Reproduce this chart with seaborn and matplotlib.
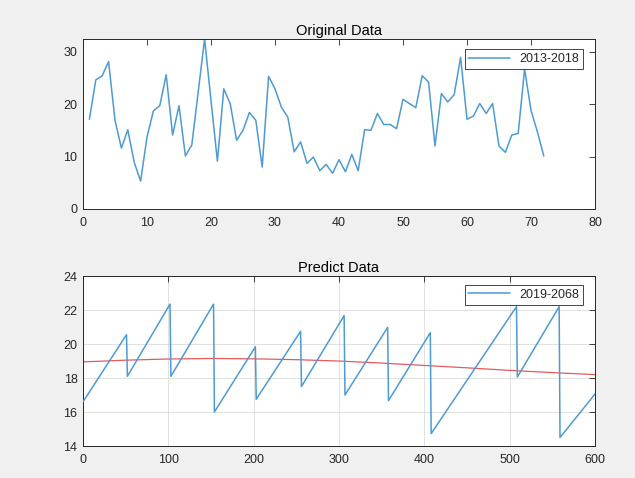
import matplotlib
matplotlib.use("Agg")
import matplotlib.pyplot as plt
import seaborn as sns

# Original data, monthly values 2013-2018
month = list(range(1, 73))
orig_vals = [17.1, 24.6, 25.4, 28.1, 16.9, 11.6, 15.1, 8.9, 5.3, 13.7,
             18.7, 19.7, 25.6, 14.1, 19.7, 10.1, 12.2, 22.3, 32.4, 20.7,
             9.1, 22.9, 20.1, 13.1, 15.0, 18.4, 16.9, 8.0, 25.3, 22.9,
             19.4, 17.5, 10.9, 12.8, 8.7, 9.9, 7.3, 8.5, 6.8, 9.4,
             7.1, 10.4, 7.3, 15.1, 15.0, 18.2, 16.1, 16.1, 15.3, 20.9,
             20.1, 19.3, 25.4, 24.2, 12.0, 22.0, 20.4, 21.8, 28.9, 17.1,
             17.7, 20.1, 18.2, 20.1, 12.0, 10.8, 14.1, 14.4, 26.7, 18.8,
             14.7, 10.1]

# Predicted series (vertices of the sawtooth), 2019-2068
pred_x = [0, 51, 52, 102, 103, 153, 154, 202, 203, 255, 256, 306, 307,
          357, 358, 407, 408, 508, 509, 558, 559, 600]
pred_y = [16.6, 20.55, 18.1, 22.35, 18.1, 22.35, 16.0, 19.84, 16.75, 20.75,
          17.5, 21.67, 17.0, 20.98, 16.67, 20.67, 14.73, 22.2, 18.06, 22.2,
          14.5, 17.06]

# Trend curve (red)
trend_x = [0, 50, 100, 150, 200, 250, 300, 350, 400, 450, 500, 550, 600]
trend_y = [18.95, 19.05, 19.12, 19.15, 19.13, 19.08, 19.0, 18.88, 18.74,
           18.6, 18.45, 18.32, 18.2]

sns.set_style("white")
plt.rcParams['font.family'] = ['Liberation Sans', 'DejaVu Sans']

blue = '#4d9bd3'
dark = '#262626'

fig = plt.figure(figsize=(6.35, 4.78), dpi=100, facecolor='#f0f0f0')
ax1 = fig.add_axes([0.1307, 0.5628, 0.8063, 0.3556])
ax2 = fig.add_axes([0.1307, 0.0669, 0.8063, 0.3556])


def style_axes(ax):
    ax.set_facecolor('white')
    for s in ax.spines.values():
        s.set_color(dark)
        s.set_linewidth(0.7)
    ax.tick_params(direction='in', top=True, right=True, length=4, width=0.6,
                   labelsize=9, colors=dark)
    ax.tick_params(axis='x', pad=6)
    ax.tick_params(axis='y', pad=4)
    ax.set_xlabel('')
    ax.set_ylabel('')


# top: original data
sns.lineplot(x=month, y=orig_vals, ax=ax1, color=blue, linewidth=1.1,
             estimator=None, sort=False, label='2013-2018')
ax1.set_xlim(0, 80)
ax1.set_ylim(0, max(orig_vals))
ax1.set_xticks(range(0, 81, 10))
ax1.set_yticks([0, 10, 20, 30])
ax1.set_title('Original Data', fontsize=10.5, color='black', pad=3)
style_axes(ax1)
leg1 = ax1.legend(loc='upper right', bbox_to_anchor=(0.977, 0.94), fontsize=9,
                  frameon=True, fancybox=False, framealpha=1, edgecolor=dark,
                  handlelength=3.3, borderpad=0.3, borderaxespad=0)
leg1.get_frame().set_linewidth(0.6)

# bottom: predicted data
sns.lineplot(x=trend_x, y=trend_y, ax=ax2, color='#e65a5c', linewidth=0.9,
             estimator=None, sort=False, legend=False, zorder=2)
sns.lineplot(x=pred_x, y=pred_y, ax=ax2, color=blue, linewidth=1.1,
             estimator=None, sort=False, zorder=3)
ax2.set_xlim(0, 600)
ax2.set_ylim(14, 24)
ax2.set_xticks(range(0, 601, 100))
ax2.set_yticks(range(14, 25, 2))
ax2.grid(True, color='#dcdcdc', linewidth=0.6)
ax2.set_axisbelow(True)
ax2.set_title('Predict Data', fontsize=10.5, color='black', pad=3)
style_axes(ax2)
leg2 = ax2.legend(handles=[ax2.lines[1]], labels=['2019-2068'], loc='upper right',
                  bbox_to_anchor=(0.977, 0.947), fontsize=9, frameon=True,
                  fancybox=False, framealpha=1, edgecolor=dark,
                  handlelength=3.3, borderpad=0.3, borderaxespad=0)
leg2.get_frame().set_linewidth(0.6)

fig.savefig('out.png', dpi=100, facecolor=fig.get_facecolor())
